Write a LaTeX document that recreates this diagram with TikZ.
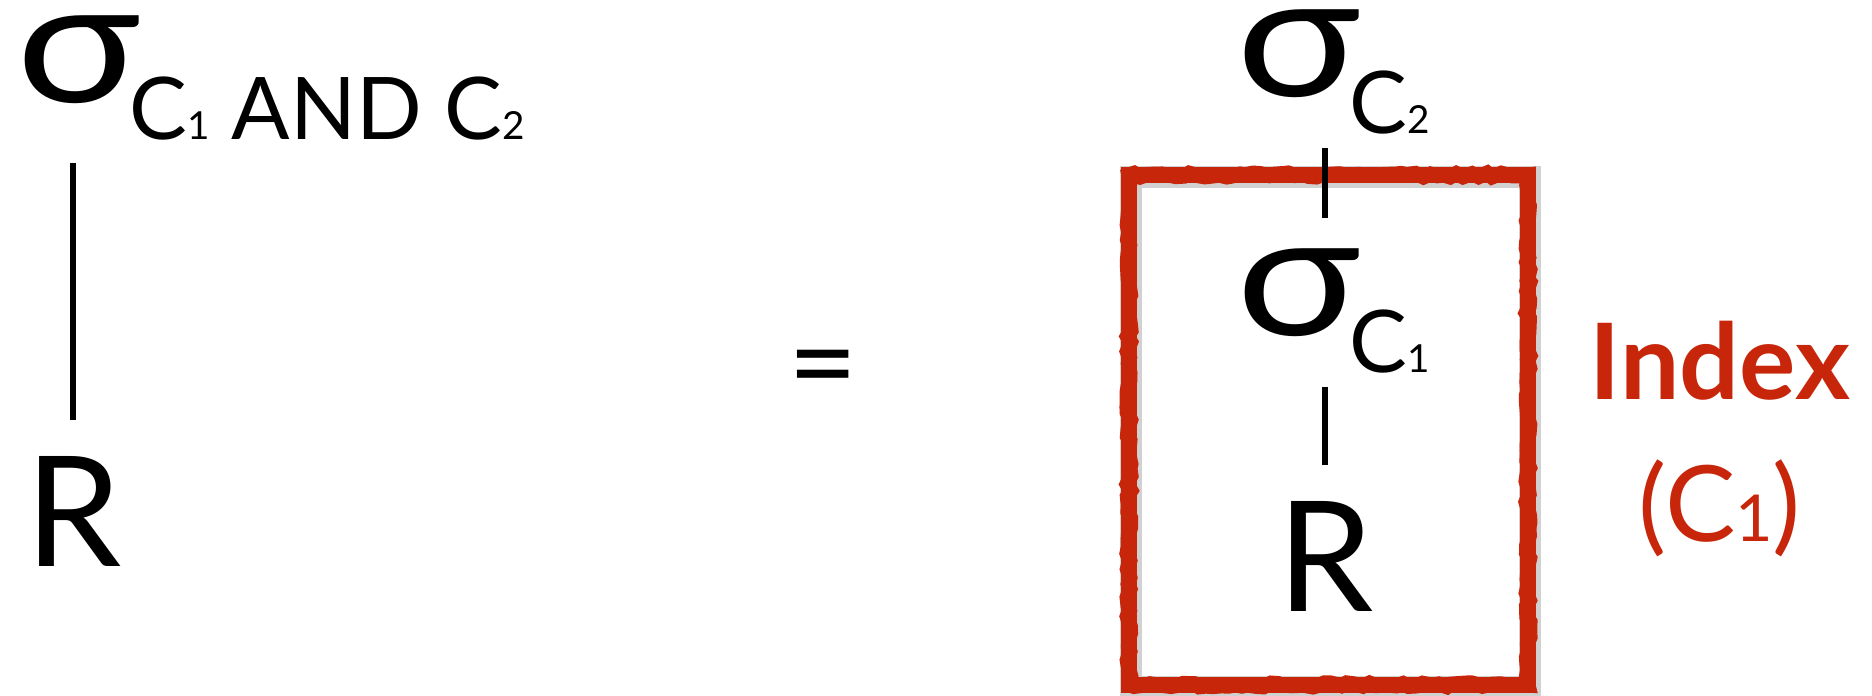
\documentclass[tikz,border=0pt]{standalone}
\usepackage{fontspec}
\setmainfont{Lato}
\usetikzlibrary{decorations.pathmorphing}
\definecolor{idxred}{RGB}{200,38,10}
\tikzstyle{term}=[inner sep=0pt, outer sep=0pt, anchor=base west]
\tikzstyle{edge}=[line width=1.5pt]
\newcommand{\sel}{{\fontsize{49}{49}\selectfont\scalebox{1.2}[1]{σ}}\kern-1mm}
\newcommand{\cnd}[1]{\raisebox{-10.5pt}{\fontsize{24.6}{25}\selectfont #1}}
\newcommand{\dg}[1]{{\fontsize{11}{11}\selectfont #1}}
\newcommand{\rel}{\fontsize{43.7}{44}\selectfont R}

\begin{document}
\begin{tikzpicture}
\useasboundingbox (0,0) rectangle (18.72,6.96);

% single selection on both conditions
\node[term] (s1) at (0.16,5.93) {\sel\cnd{C\dg{1} AND C\dg{2}}};
\node[term] (r1) at (0.25,1.29) {\rel};
\draw[edge, shorten <=2.2mm, shorten >=3.7mm] (s1.south -| r1.north) -- (r1.north);

\node (eq) at (8.23,3.19) {\fontsize{34}{34}\selectfont =};

% index box around the inner selection
\draw[black!18, line width=2.2mm] (11.31,5.19) rectangle (15.30,0.09);
\draw[idxred, line width=1.6mm] (11.29,5.21) rectangle (15.28,0.11);
\draw[idxred, line width=1.5mm, decorate,
      decoration={random steps, segment length=2pt, amplitude=0.6pt}]
      (11.29,5.21) rectangle (15.28,0.11);

% cascaded selections
\node[term] (s2) at (12.36,5.99) {\sel\cnd{C\dg{2}}};
\node[term] (s3) at (12.36,3.60) {\sel\cnd{C\dg{1}}};
\node[term] (r2) at (12.77,0.84) {\rel};
\draw[edge, shorten <=1.3mm, shorten >=3.1mm] (s2.south -| r2.north) -- (s3.north -| r2.north);
\draw[edge, shorten <=1.3mm, shorten >=3.7mm] (s3.south -| r2.north) -- (r2.north);

\node[anchor=base, idxred, inner sep=0pt] (idx) at (17.2,2.96) {\fontsize{30}{30}\selectfont\bfseries Index};
\node[anchor=base, idxred, inner sep=0pt] (arg) at (17.2,1.54) {\fontsize{30}{30}\selectfont (C{\fontsize{18.4}{18}\selectfont 1})};
\end{tikzpicture}
\end{document}
